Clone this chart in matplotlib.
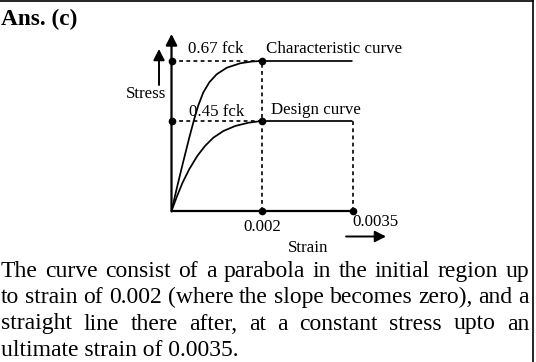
import numpy as np
import matplotlib
matplotlib.use("Agg")
import matplotlib.pyplot as plt
from matplotlib.lines import Line2D
from matplotlib.patches import FancyArrowPatch

# ---------------- data ----------------
strain_ticks = [0.002, 0.0035]
strain_tick_labels = ["0.002", "0.0035"]
stress_levels = [0.67, 0.45]
stress_labels = ["0.67 fck", "0.45 fck"]
curve_names = ["Characteristic curve", "Design curve"]

char_strain = [0, 0.000124, 0.000258, 0.000391, 0.000496, 0.000591, 0.000702,
               0.000836, 0.001, 0.001222, 0.001518, 0.001778, 0.002, 0.0035]
char_stress = [0, 0.1205, 0.245, 0.365, 0.4533, 0.5068, 0.5545,
               0.5919, 0.6216, 0.6454, 0.6616, 0.6682, 0.67, 0.67]

design_strain = [0, 0.000124, 0.000244, 0.000391, 0.000569, 0.00074, 0.000924,
                 0.001147, 0.001407, 0.001702, 0.002, 0.0035]
design_stress = [0, 0.075, 0.1415, 0.2085, 0.275, 0.325, 0.3665,
                 0.40, 0.425, 0.4415, 0.45, 0.45]

answer = "Ans. (c)"
x_label = "Strain"
y_label = "Stress"
paragraph_lines = [
    "The curve consist of a parabola in the initial region up",
    "to strain of 0.002 (where the slope becomes zero), and a",
    "straight line there after, at a constant stress upto an",
    "ultimate strain of 0.0035.",
]

# ---------------- figure ----------------
plt.rcParams['font.family'] = ['Liberation Serif', 'DejaVu Serif']
W, H = 536, 362
fig = plt.figure(figsize=(W / 100, H / 100), dpi=100)


def fx(x):
    return x / W


def fy(y):
    return 1 - y / H


def piecewise(xp, fp):
    xp = np.asarray(xp, float)
    fp = np.asarray(fp, float)

    def f(v):
        v = np.asarray(v, float)
        out = np.interp(v, xp, fp)
        lo_s = (fp[1] - fp[0]) / (xp[1] - xp[0])
        hi_s = (fp[-1] - fp[-2]) / (xp[-1] - xp[-2])
        out = np.where(v < xp[0], fp[0] + (v - xp[0]) * lo_s, out)
        out = np.where(v > xp[-1], fp[-1] + (v - xp[-1]) * hi_s, out)
        return out
    return f


# schematic (not-to-scale) axes: knots -> pixel distances
xk_val, xk_px = [0, 0.002, 0.0035], [0, 90.5, 181]
yk_val, yk_px = [0, 0.45, 0.67], [0, 90, 150]

ax = fig.add_axes([fx(171.5), fy(211), 181 / W, 150 / H])
ax.set_xscale('function', functions=(piecewise(xk_val, xk_px), piecewise(xk_px, xk_val)))
ax.set_yscale('function', functions=(piecewise(yk_val, yk_px), piecewise(yk_px, yk_val)))
ax.set_xlim(0, 0.0035)
ax.set_ylim(0, 0.67)
ax.axis('off')

lw_curve = 1.25
dash = (0, (2.3, 2.0))
# curves
ax.plot(char_strain, char_stress, color='k', lw=lw_curve, clip_on=False,
        solid_capstyle='butt', solid_joinstyle='round')
ax.plot(design_strain, design_stress, color='k', lw=lw_curve, clip_on=False,
        solid_capstyle='butt', solid_joinstyle='round')
# dashed guides
for lev in stress_levels:
    ax.plot([0, strain_ticks[0]], [lev, lev], color='k', lw=1.2, ls=dash, clip_on=False)
ax.plot([strain_ticks[0]] * 2, [0, stress_levels[0]], color='k', lw=1.2, ls=dash, clip_on=False)
ax.plot([strain_ticks[1]] * 2, [0, stress_levels[1]], color='k', lw=1.2, ls=dash, clip_on=False)
# x axis
ax.plot([0, strain_ticks[1]], [0, 0], color='k', lw=1.6, clip_on=False, solid_capstyle='butt')
# dots
dots_x = [0, 0, strain_ticks[0], strain_ticks[0], strain_ticks[0], strain_ticks[1]]
dots_y = [stress_levels[0], stress_levels[1], stress_levels[0], stress_levels[1], 0, 0]
ax.plot(dots_x, dots_y, 'o', color='k', ms=4.5, clip_on=False, zorder=5)

fs_small = 12.2
# stress labels and curve names
ax.annotate(stress_labels[0], (0, stress_levels[0]), xytext=(44, 8), textcoords='offset pixels',
            ha='center', va='baseline', fontsize=fs_small)
ax.annotate(stress_labels[1], (0, stress_levels[1]), xytext=(45, 5), textcoords='offset pixels',
            ha='center', va='baseline', fontsize=fs_small)
ax.annotate(curve_names[0], (strain_ticks[0], stress_levels[0]), xytext=(4, 8), textcoords='offset pixels',
            ha='left', va='baseline', fontsize=fs_small)
ax.annotate(curve_names[1], (strain_ticks[0], stress_levels[1]), xytext=(9, 7), textcoords='offset pixels',
            ha='left', va='baseline', fontsize=fs_small)
# strain tick labels
ax.annotate(strain_tick_labels[0], (strain_ticks[0], 0), xytext=(0, -20), textcoords='offset pixels',
            ha='center', va='baseline', fontsize=fs_small)
ax.annotate(strain_tick_labels[1], (strain_ticks[1], 0), xytext=(0, -15), textcoords='offset pixels',
            ha='left', va='baseline', fontsize=fs_small)


def arrow(p0, p1, lw=1.5):
    a = FancyArrowPatch((fx(p0[0]), fy(p0[1])), (fx(p1[0]), fy(p1[1])),
                        transform=fig.transFigure, arrowstyle='-|>,head_length=0.55,head_width=0.28',
                        mutation_scale=12, lw=lw, color='k', shrinkA=0, shrinkB=0)
    fig.add_artist(a)


# y axis with arrow
arrow((171.5, 211.5), (171.5, 34), lw=1.6)
# stress / strain arrows
arrow((159, 85), (159, 49), lw=1.4)
arrow((346, 236.5), (386, 236.5), lw=1.4)

fig.text(fx(146), fy(97.5), y_label, ha='center', va='baseline', fontsize=fs_small)
fig.text(fx(308), fy(252.5), x_label, ha='center', va='baseline', fontsize=fs_small)

# header
fs_big = 17
fig.text(fx(1), fy(25), answer, ha='left', va='baseline', fontsize=16.8, fontweight='bold')

# justified paragraph
renderer = fig.canvas.get_renderer()
x0, x1 = 1, 529
baselines = [277, 303.3, 329.5, 355.7]
for i, line in enumerate(paragraph_lines):
    yb = fy(baselines[i])
    if i == len(paragraph_lines) - 1:
        fig.text(fx(x0), yb, line, ha='left', va='baseline', fontsize=fs_big)
        continue
    words = line.split()
    ts = [fig.text(0, yb, w, ha='left', va='baseline', fontsize=fs_big) for w in words]
    widths = [t.get_window_extent(renderer).width for t in ts]
    gap = (x1 - x0 - sum(widths)) / (len(words) - 1)
    xpos = x0
    for t, w in zip(ts, widths):
        t.set_x(fx(xpos))
        xpos += w + gap

# border lines (top and right)
fig.add_artist(Line2D([0, fx(532.5)], [fy(1), fy(1)], transform=fig.transFigure, color='k', lw=1.2))
fig.add_artist(Line2D([fx(532.5), fx(532.5)], [fy(0.5), 0], transform=fig.transFigure, color='k', lw=1.2))

fig.savefig("out.png", dpi=100)
